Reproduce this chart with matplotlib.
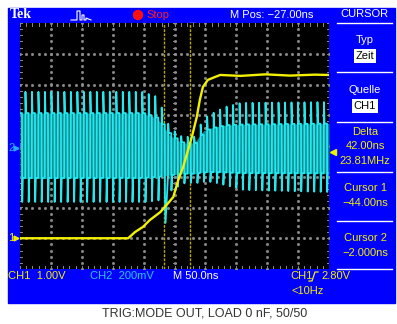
import numpy as np
import matplotlib.pyplot as plt
from matplotlib.patches import Rectangle, Circle

# scope settings
time_per_div = 50.0      # ns
m_pos = -27.0            # ns, screen centre relative to trigger
ch1_scale = 1.0          # V/div
ch1_offset_div = -3.0    # ground marker position
ch2_scale = 200.0        # mV/div
cursor_times = [-44.0, -2.0]

# CH1 (yellow) trace: time (ns), volts
ch1_t = [-277, -102, -91, -78, -67, -50, -37, -29, -21, -13, -5, 1, 9, 14, 19, 27, 38, 47,
         80, 120, 160, 200, 223]
ch1_v = [0.0, 0.0, 0.2, 0.37, 0.59, 0.85, 1.15, 1.34, 1.89, 2.32, 2.87, 3.29, 3.94, 4.5, 4.92,
         5.15, 5.24, 5.31, 5.28, 5.33, 5.29, 5.32, 5.31]

# CH2 (cyan) clock: envelope of the pulse train, time (ns) and mV
ch2_period = 10.5
env_t = [-277, -80, -55, -35, -15, 5, 20, 35, 55, 80, 223]
spike_top = [352, 352, 320, 120, 60, 60, 180, 214, 254, 280, 286]
plateau_hi = [214, 214, 180, 70, 20, 20, 100, 120, 136, 140, 146]
plateau_lo = [-208, -208, -200, -190, -180, -180, -170, -170, -172, -176, -178]
spike_bot = [-364, -364, -352, -280, -240, -240, -230, -240, -260, -286, -300]
glitch_t, glitch_mv = -40.0, -500.0

t_left = m_pos - 5 * time_per_div
t_right = m_pos + 5 * time_per_div

BLUE = '#0000fe'
YEL = '#f2f000'
CYAN = '#22e8f0'
FONT = ['Liberation Sans', 'DejaVu Sans']

fig = plt.figure(figsize=(3.97, 3.24), dpi=100)
bg = fig.add_axes([0, 0, 1, 1])
bg.set_xlim(0, 397)
bg.set_ylim(324, 0)
bg.axis('off')
bg.add_patch(Rectangle((8, 8), 387, 295, color=BLUE))


def txt(x, y, s, color='white', ha='left', size=8, **kw):
    bg.text(x, y, s, color=color, ha=ha, va='center', fontsize=size, family=FONT, **kw)


# top bar
bg.text(10, 15, 'Tek', color='white', fontsize=10, fontweight='bold',
        family=['Liberation Serif', 'DejaVu Serif'], va='center')
bg.plot([71, 77, 77, 80, 80, 82, 82, 84, 84, 86, 86, 91], [20, 20, 11, 11, 20, 20, 15, 15, 20, 20, 18, 20],
        color='white', lw=0.8)
bg.add_patch(Circle((138, 15), 4.5, color='#ff1010'))
txt(146, 15, 'Stop', color='#ff2020')
txt(230, 15, 'M Pos: \u221227.00ns')
txt(364, 14, 'CURSOR', ha='center')

# right side menu
for yy in [23, 72, 122, 172, 221, 269]:
    bg.plot([337, 392], [yy, yy], color='white', lw=1)
box = dict(boxstyle='square,pad=0.15', fc='white', ec='none')
txt(365, 40, 'Typ', ha='center')
txt(365, 56, 'Zeit', color='black', ha='center', bbox=box)
txt(365, 90, 'Quelle', ha='center')
txt(365, 106, 'CH1', color='black', ha='center', bbox=box)
txt(365, 132, 'Delta', color=YEL, ha='center')
txt(365, 146, '42.00ns', color=YEL, ha='center')
txt(365, 161, '23.81MHz', color=YEL, ha='center')
txt(365, 188, 'Cursor 1', color=YEL, ha='center')
txt(365, 203, '\u221244.00ns', color=YEL, ha='center')
txt(365, 238, 'Cursor 2', color=YEL, ha='center')
txt(365, 253, '\u22122.000ns', color=YEL, ha='center')

# bottom status line
txt(8, 276, 'CH1  1.00V', color=YEL)
txt(90, 276, 'CH2  200mV', color='#28c8ff')
txt(173, 276, 'M 50.0ns')
txt(290, 276, 'CH1', color=YEL)
bg.plot([309, 312, 315, 318], [281, 281, 272, 272], color=YEL, lw=0.9)
txt(321, 276, '2.80V', color=YEL)
txt(292, 291, '<10Hz', color=YEL)

bg.text(205, 313, 'TRIG:MODE OUT, LOAD 0 nF, 50/50', color='#333333', ha='center',
        va='center', fontsize=9, family=FONT)

# scope screen
ax = fig.add_axes([20 / 397, (324 - 269) / 324, 309 / 397, 246 / 324])
ax.set_facecolor('black')
ax.set_xlim(t_left, t_right)
ax.set_ylim(-4, 4)
ax.set_xticks([])
ax.set_yticks([])
for s in ax.spines.values():
    s.set_visible(False)

GRID = '#8c8c8c'
sub = np.arange(-4, 4.01, 0.2)
subx = np.arange(0, 10.01, 0.2)
for k in range(1, 10):
    tx = t_left + k * time_per_div
    ax.plot(np.full_like(sub, tx), sub, ls='none', marker='s', ms=1.0, color=GRID, zorder=1)
for k in range(-3, 4):
    ax.plot(t_left + subx * time_per_div, np.full_like(subx, k), ls='none', marker='s', ms=1.0,
            color=GRID, zorder=1)
# ticks on centre lines and border
tc = m_pos
for yy in sub:
    ax.plot([tc - 3, tc + 3], [yy, yy], color=GRID, lw=0.7, zorder=1)
    ax.plot([t_left, t_left + 3], [yy, yy], color=GRID, lw=0.7, zorder=1)
    ax.plot([t_right - 3, t_right], [yy, yy], color=GRID, lw=0.7, zorder=1)
for xx in subx:
    tx = t_left + xx * time_per_div
    ax.plot([tx, tx], [-0.1, 0.1], color=GRID, lw=0.7, zorder=1)
    ax.plot([tx, tx], [3.9, 4.0], color=GRID, lw=0.7, zorder=1)
    ax.plot([tx, tx], [-4.0, -3.9], color=GRID, lw=0.7, zorder=1)

# cursors
for ct in cursor_times:
    ax.axvline(ct, color='#b8a800', lw=1, ls=(0, (2, 1)), zorder=2)

# CH2 persistence band and pulse train
tg = np.linspace(t_left, t_right, 400)
ax.fill_between(tg, np.interp(tg, env_t, plateau_lo) / ch2_scale,
                np.interp(tg, env_t, plateau_hi) / ch2_scale, color='#11878d', lw=0, zorder=3)
wt, wv = [], []
for t0 in np.arange(t_left - 2, t_right, ch2_period):
    top, hi, lo, bot = (np.interp(t0, env_t, a) for a in (spike_top, plateau_hi, plateau_lo, spike_bot))
    P = ch2_period
    wt += [t0, t0 + 0.03 * P, t0 + 0.12 * P, t0 + 0.5 * P, t0 + 0.53 * P, t0 + 0.62 * P]
    wv += [lo, top, hi, hi, bot, lo]
wv = np.array(wv)
wt = np.array(wt)
gi = np.argmin(np.abs(wt - glitch_t))
wv[gi] = glitch_mv
ax.plot(wt, wv / ch2_scale, color=CYAN, lw=1.3, zorder=4)

# CH1 trace
ax.plot(ch1_t, np.array(ch1_v) / ch1_scale + ch1_offset_div, color=YEL, lw=1.7, zorder=5)

# markers around the screen
txt(8, 238, '1', color=YEL)
bg.plot([16], [238], marker='>', ms=3.5, color=YEL)
txt(8, 148, '2', color='#28a8ff')
bg.plot([16], [148], marker='>', ms=3.5, color='#28a8ff')
bg.plot([333], [152], marker='<', ms=5, color=YEL)
bg.plot([192], [26], marker='v', ms=5, color='white')

fig.savefig('out.png', dpi=100)
